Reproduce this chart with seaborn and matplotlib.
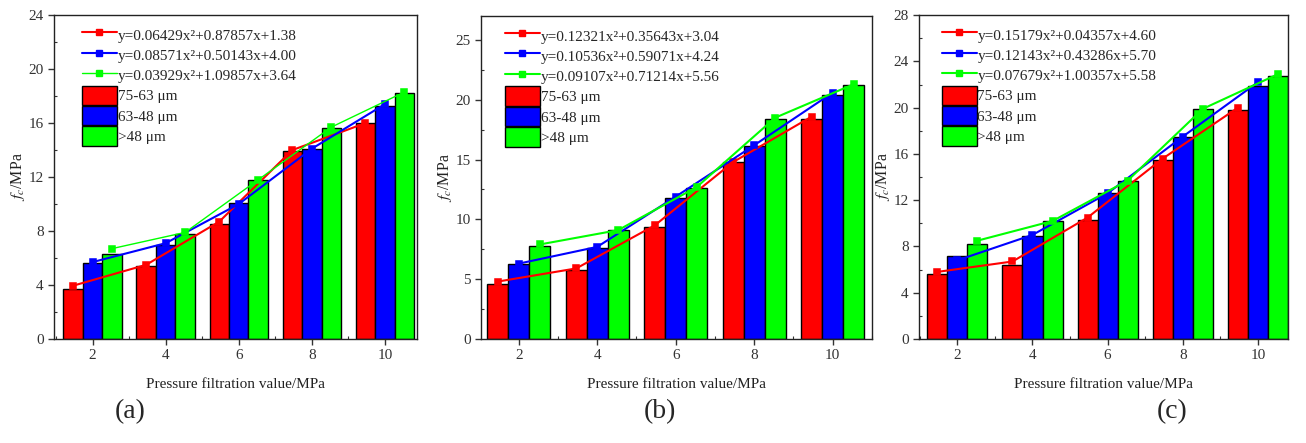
import numpy as np
import pandas as pd
import seaborn as sns
import matplotlib
matplotlib.use("Agg")
import matplotlib.pyplot as plt
from matplotlib.lines import Line2D
from matplotlib.patches import Patch
from matplotlib.ticker import MultipleLocator, AutoMinorLocator

pressure = [2, 4, 6, 8, 10]
sizes = ["75-63 μm", "63-48 μm", ">48 μm"]
colors = ["#ff0000", "#0000ff", "#00ff00"]

# bar heights f_c (MPa)
a_red = [3.7, 5.4, 8.5, 13.9, 16.0]
a_blue = [5.6, 7.0, 10.1, 14.1, 17.3]
a_green = [6.3, 7.8, 11.8, 15.6, 18.2]

b_red = [4.6, 5.8, 9.4, 14.8, 18.4]
b_blue = [6.3, 7.6, 11.8, 16.1, 20.4]
b_green = [7.8, 9.1, 12.6, 18.4, 21.2]

c_red = [5.6, 6.4, 10.3, 15.5, 19.8]
c_blue = [7.2, 8.9, 12.6, 17.5, 21.9]
c_green = [8.2, 10.2, 13.7, 19.9, 22.7]

# fitted curves at the marker positions
a_red_fit = [3.95, 5.5, 8.7, 14.0, 16.0]
a_blue_fit = [5.7, 7.1, 10.0, 14.1, 17.4]
a_green_fit = [6.7, 7.9, 11.8, 15.7, 18.3]

b_red_fit = [4.8, 5.9, 9.5, 14.8, 18.6]
b_blue_fit = [6.3, 7.7, 11.9, 16.2, 20.6]
b_green_fit = [7.9, 9.1, 12.7, 18.5, 21.3]

c_red_fit = [5.8, 6.7, 10.5, 15.6, 20.0]
c_blue_fit = [6.8, 9.0, 12.6, 17.5, 22.2]
c_green_fit = [8.5, 10.2, 13.7, 19.9, 22.9]

a_eqs = ["y=0.06429x²+0.87857x+1.38", "y=0.08571x²+0.50143x+4.00", "y=0.03929x²+1.09857x+3.64"]
b_eqs = ["y=0.12321x²+0.35643x+3.04", "y=0.10536x²+0.59071x+4.24", "y=0.09107x²+0.71214x+5.56"]
c_eqs = ["y=0.15179x²+0.04357x+4.60", "y=0.12143x²+0.43286x+5.70", "y=0.07679x²+1.00357x+5.58"]

sns.set_style("ticks")
plt.rcParams["font.family"] = ["Liberation Serif", "DejaVu Serif"]
plt.rcParams["mathtext.fontset"] = "stix"


def long_df(series):
    rows = []
    for s, vals in zip(sizes, series):
        for p, v in zip(pressure, vals):
            rows.append({"pressure": p, "size": s, "fc": v})
    return pd.DataFrame(rows)


def panel(ax, bars, fits, eqs, ymax, ystep, xlim, legend_x, green_lw=1.5):
    sns.barplot(data=long_df(bars), x="pressure", y="fc", hue="size", hue_order=sizes,
                palette=colors, saturation=1, width=0.8, edgecolor="black", linewidth=1,
                errorbar=None, legend=False, ax=ax)
    sns.pointplot(data=long_df(fits), x="pressure", y="fc", hue="size", hue_order=sizes,
                  palette=colors, dodge=0.8 * 2 / 3, markers="s", markersize=4,
                  linewidth=1.5, errorbar=None, legend=False, ax=ax)
    ax.lines[-1].set_linewidth(green_lw)
    ax.set_xlim(*xlim)
    ax.set_ylim(0, ymax)
    ax.yaxis.set_major_locator(MultipleLocator(ystep))
    ax.yaxis.set_minor_locator(AutoMinorLocator(2))
    ax.xaxis.set_minor_locator(AutoMinorLocator(2))
    ax.tick_params(which="major", direction="out", length=4, width=1, labelsize=11, colors="#333333")
    ax.tick_params(which="minor", direction="in", length=2.5, width=0.8, colors="#333333")
    for sp in ax.spines.values():
        sp.set_visible(True)
        sp.set_color("#222222")
        sp.set_linewidth(1)
    ax.set_xlabel("Pressure filtration value/MPa", fontsize=11, labelpad=11, color="#222222")
    ax.set_ylabel(r"$f_c$/MPa", fontsize=11.5, labelpad=1, color="#222222")

    handles = [Line2D([], [], color=c, marker="s", markersize=4, lw=lw)
               for c, lw in zip(colors, [1.5, 1.5, green_lw])]
    handles += [Patch(facecolor=c, edgecolor="black", lw=1) for c in colors]
    ax.legend(handles, eqs + sizes, loc="upper left", bbox_to_anchor=(legend_x, 0.97),
              frameon=False, fontsize=11, handlelength=2.3, handleheight=1.6,
              labelspacing=0.04, handletextpad=0.05, borderaxespad=0, borderpad=0)


fig = plt.figure(figsize=(13.06, 4.43), dpi=100)
ax_a = fig.add_axes([0.0413, 0.2348, 0.278, 0.731])
ax_b = fig.add_axes([0.3683, 0.2348, 0.2994, 0.729])
ax_c = fig.add_axes([0.7037, 0.2348, 0.2825, 0.731])

panel(ax_a, [a_red, a_blue, a_green], [a_red_fit, a_blue_fit, a_green_fit], a_eqs,
      24, 4, (-0.53, 4.44), 0.077, green_lw=1.0)
panel(ax_b, [b_red, b_blue, b_green], [b_red_fit, b_blue_fit, b_green_fit], b_eqs,
      27, 5, (-0.48, 4.5), 0.061)
panel(ax_c, [c_red, c_blue, c_green], [c_red_fit, c_blue_fit, c_green_fit], c_eqs,
      28, 4, (-0.51, 4.4), 0.061)

fig.text(130 / 1306, 1 - 412 / 443, "(a)", fontsize=20, ha="center", va="center")
fig.text(660 / 1306, 1 - 412 / 443, "(b)", fontsize=20, ha="center", va="center")
fig.text(1172 / 1306, 1 - 412 / 443, "(c)", fontsize=20, ha="center", va="center")

fig.savefig("out.png", dpi=100)
